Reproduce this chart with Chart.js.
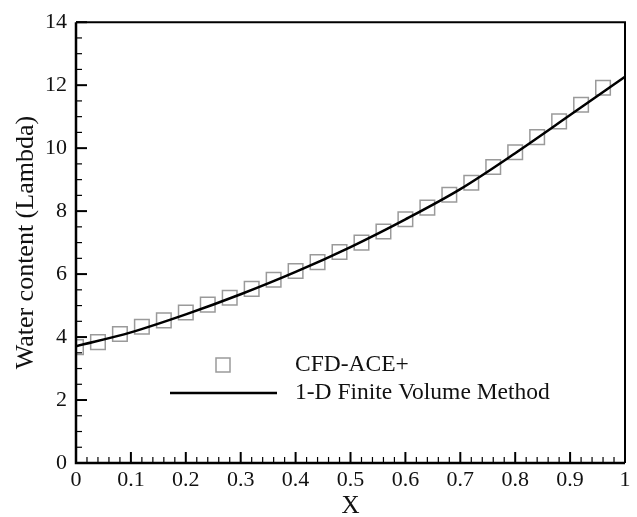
<!DOCTYPE html>
<html>
<head>
<meta charset="utf-8">
<script src="https://cdn.jsdelivr.net/npm/chart.js@4"></script>
<style>
  html, body { margin: 0; padding: 0; background: #fff; }
  #wrap { width: 637px; height: 517px; }
</style>
</head>
<body>
<div id="wrap"><canvas id="chart"></canvas></div>
<script>
// CFD-ACE+ samples (square markers)
const cfdX = [0, 0.04, 0.08, 0.12, 0.16, 0.2, 0.24, 0.28, 0.32, 0.36, 0.4, 0.44, 0.48,
              0.52, 0.56, 0.6, 0.64, 0.68, 0.72, 0.76, 0.8, 0.84, 0.88, 0.92, 0.96];
const cfdY = [3.68, 3.84, 4.1, 4.33, 4.53, 4.78, 5.03, 5.25, 5.53, 5.82, 6.1, 6.38, 6.7,
              7.0, 7.35, 7.74, 8.11, 8.52, 8.9, 9.4, 9.87, 10.35, 10.85, 11.38, 11.92];

// 1-D finite volume solution (solid line)
const fvmX = [0, 0.1, 0.2, 0.3, 0.4, 0.5, 0.6, 0.7, 0.8, 0.9, 1.0];
const fvmY = [3.71, 4.15, 4.72, 5.36, 6.07, 6.86, 7.74, 8.7, 9.84, 11.05, 12.27];

const xTicks = [0, 0.1, 0.2, 0.3, 0.4, 0.5, 0.6, 0.7, 0.8, 0.9, 1];
const yTicks = [0, 2, 4, 6, 8, 10, 12, 14];

const serif = "'Liberation Serif', 'Times New Roman', serif";
const markerColor = '#9a9a9a';

// inward ticks, plot frame and in-plot legend
const framePlugin = {
    id: 'frame',
    afterDatasetsDraw(chart) {
        const { ctx, chartArea: a, scales } = chart;
        const xs = scales.x, ys = scales.y;
        ctx.save();
        ctx.strokeStyle = '#000';

        // minor/major ticks on left axis
        for (let v = 0; v <= 14.001; v += 0.5) {
            const py = ys.getPixelForValue(v);
            const major = Math.abs(v / 2 - Math.round(v / 2)) < 1e-6;
            ctx.beginPath();
            ctx.moveTo(a.left, py);
            ctx.lineTo(a.left + (major ? 11 : 6), py);
            ctx.lineWidth = major ? 2 : 1.2;
            ctx.stroke();
        }
        // minor/major ticks on bottom axis
        for (let i = 0; i <= 50; i++) {
            const px = xs.getPixelForValue(i * 0.02);
            const major = i % 5 === 0;
            ctx.beginPath();
            ctx.moveTo(px, a.bottom);
            ctx.lineTo(px, a.bottom - (major ? 11 : 6));
            ctx.lineWidth = major ? 2 : 1.2;
            ctx.stroke();
        }

        // frame
        ctx.lineWidth = 2.5;
        ctx.beginPath();
        ctx.moveTo(a.left, a.top);
        ctx.lineTo(a.left, a.bottom);
        ctx.lineTo(a.right, a.bottom);
        ctx.stroke();
        ctx.lineWidth = 2;
        ctx.beginPath();
        ctx.moveTo(a.left, a.top);
        ctx.lineTo(a.right, a.top);
        ctx.lineTo(a.right, a.bottom);
        ctx.stroke();

        // legend
        const lx = a.left, ly = a.bottom;
        ctx.strokeStyle = markerColor;
        ctx.lineWidth = 1.5;
        ctx.strokeRect(lx + 147 - 7, ly - 98 - 7, 14, 14);
        ctx.strokeStyle = '#000';
        ctx.lineWidth = 2.5;
        ctx.beginPath();
        ctx.moveTo(lx + 94, ly - 70);
        ctx.lineTo(lx + 201, ly - 70);
        ctx.stroke();

        ctx.fillStyle = '#111';
        ctx.font = '23.5px ' + serif;
        ctx.textAlign = 'left';
        ctx.textBaseline = 'middle';
        ctx.fillText('CFD-ACE+', lx + 219, ly - 98);
        ctx.fillText('1-D Finite Volume Method', lx + 219, ly - 70);
        ctx.restore();
    }
};

new Chart(document.getElementById('chart').getContext('2d'), {
    type: 'scatter',
    data: {
        datasets: [
            {
                label: '1-D Finite Volume Method',
                type: 'line',
                data: fvmX.map((x, i) => ({ x: x, y: fvmY[i] })),
                borderColor: '#000',
                borderWidth: 2.5,
                pointRadius: 0,
                cubicInterpolationMode: 'monotone',
                fill: false,
                order: 0
            },
            {
                label: 'CFD-ACE+',
                data: cfdX.map((x, i) => ({ x: x, y: cfdY[i] })),
                pointStyle: 'rect',
                pointRadius: 10.3,
                pointBorderWidth: 1.5,
                pointBorderColor: markerColor,
                pointBackgroundColor: 'rgba(0,0,0,0)',
                order: 1
            }
        ]
    },
    options: {
        responsive: true,
        maintainAspectRatio: false,
        animation: false,
        layout: { padding: { top: 18, right: 12, left: 0, bottom: 0 } },
        plugins: {
            legend: { display: false },
            tooltip: { enabled: false }
        },
        scales: {
            x: {
                type: 'linear',
                min: 0,
                max: 1,
                afterBuildTicks: (s) => { s.ticks = xTicks.map(v => ({ value: v })); },
                afterFit: (s) => { s.height = 54; },
                grid: { display: false, drawTicks: false },
                border: { display: false },
                ticks: {
                    padding: 4,
                    color: '#111',
                    font: { family: serif, size: 22 },
                    maxRotation: 0,
                    callback: (v) => String(v)
                },
                title: {
                    display: true,
                    text: 'X',
                    color: '#111',
                    font: { family: serif, size: 25, lineHeight: 1 },
                    padding: { top: 0, bottom: -2 }
                }
            },
            y: {
                min: 0,
                max: 14,
                afterBuildTicks: (s) => { s.ticks = yTicks.map(v => ({ value: v })); },
                afterFit: (s) => { s.width = 76; },
                grid: { display: false, drawTicks: false },
                border: { display: false },
                ticks: {
                    padding: 9,
                    color: '#111',
                    font: { family: serif, size: 22 }
                },
                title: {
                    display: true,
                    text: 'Water content (Lambda)',
                    color: '#111',
                    font: { family: serif, size: 26, lineHeight: 1 },
                    padding: { top: 13, bottom: 0 }
                }
            }
        }
    },
    plugins: [framePlugin]
});
</script>
</body>
</html>
